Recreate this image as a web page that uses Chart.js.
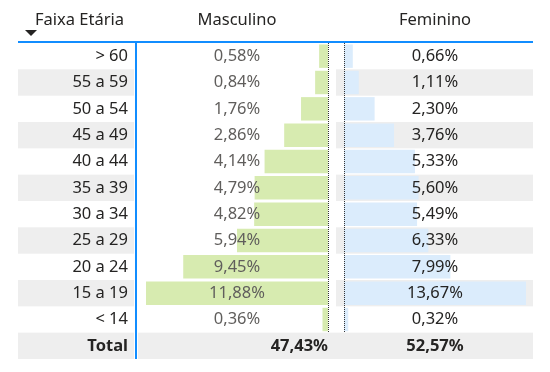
<!DOCTYPE html>
<html>
<head>
<meta charset="utf-8">
<script src="https://cdn.jsdelivr.net/npm/chart.js@4/dist/chart.umd.min.js"></script>
<style>
  body { margin: 0; background: #fff; }
  #wrap { width: 550px; height: 372px; }
</style>
</head>
<body>
<div id="wrap"><canvas id="myChart" width="550" height="372"></canvas></div>
<script>
// DATA
var faixas = ["> 60", "55 a 59", "50 a 54", "45 a 49", "40 a 44", "35 a 39", "30 a 34", "25 a 29", "20 a 24", "15 a 19", "< 14"];
var masculino = [0.58, 0.84, 1.76, 2.86, 4.14, 4.79, 4.82, 5.94, 9.45, 11.88, 0.36];
var feminino = [0.66, 1.11, 2.30, 3.76, 5.33, 5.60, 5.49, 6.33, 7.99, 13.67, 0.32];
var totalLabel = "Total";
var totalMasculino = 47.43;
var totalFeminino = 52.57;
var headers = ["Faixa Etária", "Masculino", "Feminino"];

var FONT = "'Noto Sans', 'Open Sans', sans-serif";
var FS = 16.5;
var dark = "#252423";
var grey = "#605e5c";
var blue = "#118dff";
var band = "#eeeeee";

function pct(v) {
  return v.toFixed(2).replace(".", ",") + "%";
}

// draws the table stuff around the bars
var tablePlugin = {
  id: "table",
  // row bands go under everything, axis labels included
  beforeDraw: function(chart) {
    var ctx = chart.ctx, y = chart.scales.y;
    var rowH = (y.bottom - y.top) / y.ticks.length;
    ctx.save();
    ctx.fillStyle = band;
    for (var i = 0; i < y.ticks.length; i++) {
      var top = y.getPixelForValue(i) - rowH / 2;
      if (i == faixas.length) {
        ctx.fillRect(18, top, 116, rowH);
        ctx.fillRect(138, top, 395, rowH);
      } else if (i % 2 == 1) {
        ctx.fillRect(18, top, 116, rowH);
        ctx.fillRect(336, top, 197, rowH);
      }
    }
    ctx.restore();
  },
  afterDatasetsDraw: function(chart) {
    var ctx = chart.ctx, y = chart.scales.y;
    var xM = chart.scales.xM, xF = chart.scales.xF;
    var rowH = (y.bottom - y.top) / y.ticks.length;
    var top = chart.chartArea.top, bottom = chart.chartArea.bottom;
    var lastRow = y.getPixelForValue(faixas.length - 1) + rowH / 2;
    ctx.save();

    // dotted zero lines
    ctx.strokeStyle = "#333";
    ctx.lineWidth = 1;
    ctx.setLineDash([1, 1]);
    [xM.getPixelForValue(0), xF.getPixelForValue(0)].forEach(function(x) {
      ctx.beginPath();
      ctx.moveTo(Math.round(x) + 0.5, top);
      ctx.lineTo(Math.round(x) + 0.5, lastRow);
      ctx.stroke();
    });
    ctx.setLineDash([]);

    // blue lines
    ctx.strokeStyle = blue;
    ctx.lineWidth = 2;
    ctx.beginPath();
    ctx.moveTo(18, top - 1);
    ctx.lineTo(533, top - 1);
    ctx.moveTo(136, top - 1);
    ctx.lineTo(136, bottom);
    ctx.stroke();

    var cM = 237, cF = 435;

    // header
    ctx.fillStyle = dark;
    ctx.textBaseline = "middle";
    ctx.font = FS + "px " + FONT;
    ctx.textAlign = "left";
    ctx.fillText(headers[0], 35, 20);
    ctx.textAlign = "center";
    ctx.fillText(headers[1], cM, 20);
    ctx.fillText(headers[2], cF, 20);
    ctx.beginPath();
    ctx.moveTo(25, 30);
    ctx.lineTo(37, 30);
    ctx.lineTo(31, 36);
    ctx.closePath();
    ctx.fill();

    // values
    for (var i = 0; i < faixas.length; i++) {
      var py = y.getPixelForValue(i);
      ctx.fillStyle = grey;
      ctx.fillText(pct(masculino[i]), cM, py);
      ctx.fillStyle = dark;
      ctx.fillText(pct(feminino[i]), cF, py);
    }

    // total row
    var ty = y.getPixelForValue(faixas.length);
    ctx.font = "bold " + FS + "px " + FONT;
    ctx.fillStyle = dark;
    ctx.textAlign = "right";
    ctx.fillText(pct(totalMasculino), 328, ty);
    ctx.textAlign = "center";
    ctx.fillText(pct(totalFeminino), cF, ty);
    ctx.restore();
  }
};

new Chart("myChart", {
  type: "bar",
  data: {
    labels: faixas.concat([totalLabel]),
    datasets: [{
      label: headers[1],
      data: masculino,
      xAxisID: "xM",
      backgroundColor: "#d7ebb0",
      grouped: false,
      barPercentage: 0.89,
      categoryPercentage: 1
    }, {
      label: headers[2],
      data: feminino,
      xAxisID: "xF",
      backgroundColor: "#dbecfc",
      grouped: false,
      barPercentage: 0.89,
      categoryPercentage: 1
    }]
  },
  options: {
    indexAxis: "y",
    responsive: false,
    animation: false,
    events: [],
    layout: { padding: { top: 43, bottom: 13, left: 18, right: 24 } },
    plugins: { legend: { display: false }, tooltip: { enabled: false } },
    scales: {
      y: {
        type: "category",
        position: "left",
        grid: { display: false, drawTicks: false },
        border: { display: false },
        afterFit: function(scale) {
          scale.width = 128;
          // labels sit inside the rows, no extra room needed
          scale.paddingTop = 0;
          scale.paddingBottom = 0;
        },
        ticks: {
          autoSkip: false,
          padding: 18,
          color: dark,
          font: function(c) {
            return { family: FONT, size: FS, weight: c.index == faixas.length ? "bold" : "normal" };
          }
        }
      },
      // three bottom axes stacked side by side: male column, gap, female column
      xM: {
        axis: "x", type: "linear", position: "bottom", display: false,
        reverse: true, min: 0, max: Math.max.apply(null, masculino),
        stack: "cols", stackWeight: 182, weight: 0
      },
      xGap: {
        axis: "x", type: "linear", position: "bottom", display: false,
        min: 0, max: 1,
        stack: "cols", stackWeight: 16, weight: 1
      },
      xF: {
        axis: "x", type: "linear", position: "bottom", display: false,
        min: 0, max: Math.max.apply(null, feminino),
        stack: "cols", stackWeight: 182, weight: 2
      }
    }
  },
  plugins: [tablePlugin]
});
</script>
</body>
</html>
